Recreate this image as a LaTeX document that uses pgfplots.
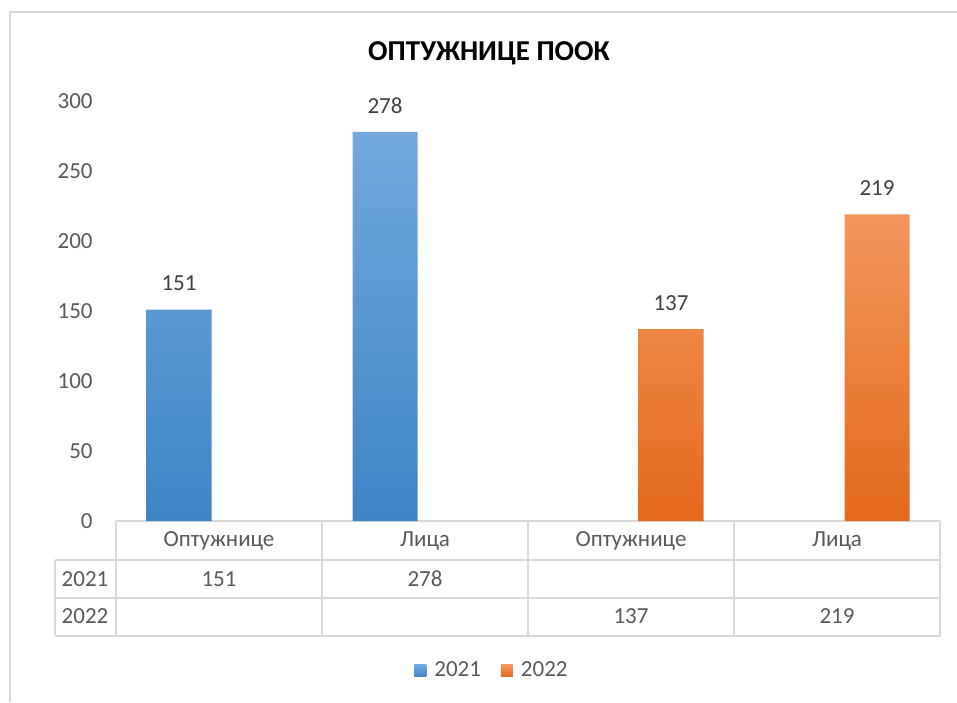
\documentclass[border=0pt]{standalone}
\usepackage{pgfplots}
\pgfplotsset{compat=1.18}
\usepackage{fontspec}
\setmainfont{Carlito}
\definecolor{blueTop}{HTML}{72A8DD}
\definecolor{blueBot}{HTML}{3E85C6}
\definecolor{orTop}{HTML}{F3965C}
\definecolor{orBot}{HTML}{E4691B}
\definecolor{tickc}{HTML}{595959}
\definecolor{labc}{HTML}{404040}
\definecolor{linec}{HTML}{D9D9D9}
\newcommand\bodyfs{\fontsize{11.5}{13.8}\selectfont}
\pgfplotsset{sqlegend/.style={legend image code/.code={\path[##1] (0pt,-3pt) rectangle (6pt,3pt);}}}
\begin{document}
\begin{tikzpicture}
\begin{scope}[x=0.5pt,y=-0.5pt]
\path[use as bounding box] (0,0) rectangle (957,702);
\draw[linec, line width=1pt] (9.5,702) -- (9.5,12) -- (957,12);
\node[anchor=base, font=\fontsize{14.4}{16}\selectfont\bfseries, text=black, inner sep=0pt] at (489,60) {ОПТУЖНИЦЕ ПООК};
% data table
\draw[linec, line width=1pt] (116,521) -- (940,521);
\foreach \yy in {560,598,636} \draw[linec, line width=1pt] (55,\yy) -- (940,\yy);
\draw[linec, line width=1pt] (55,560) -- (55,636);
\foreach \xx in {116,322,528,734,940} \draw[linec, line width=1pt] (\xx,521) -- (\xx,636);
\foreach \xx/\t in {219/Оптужнице,425/Лица,631/Оптужнице,837/Лица}
  \node[anchor=base, text=tickc, font=\bodyfs, inner sep=0pt] at (\xx,546) {\t};
\node[anchor=base, text=tickc, font=\bodyfs, inner sep=0pt] at (85,586.5) {2021};
\node[anchor=base, text=tickc, font=\bodyfs, inner sep=0pt] at (85,623) {2022};
\foreach \xx/\t in {219/151,425/278}
  \node[anchor=base, text=tickc, font=\bodyfs, inner sep=0pt] at (\xx,586.5) {\t};
\foreach \xx/\t in {631/137,837/219}
  \node[anchor=base, text=tickc, font=\bodyfs, inner sep=0pt] at (\xx,623) {\t};
\end{scope}
\begin{axis}[
  at={(58pt,-260.5pt)}, anchor=south west,
  scale only axis, width=412pt, height=210pt,
  xmin=-0.5, xmax=3.5, ymin=0, ymax=300,
  axis lines=left, axis line style={draw=none},
  xtick=\empty, ytick={0,50,...,300},
  major tick length=0pt,
  /pgf/number format/assume math mode=true,
  yticklabel style={font=\bodyfs, text=tickc, anchor=east, inner sep=0pt, xshift=-11.5pt},
  ybar, bar width=32.5pt,
  clip=false,
  nodes near coords,
  nodes near coords style={font=\bodyfs, text=labc, anchor=center, yshift=13pt},
  legend style={at={(0.4575,-0.357)}, anchor=center, draw=none, fill=none,
    legend columns=2, font=\bodyfs, text=tickc,
    /tikz/every odd column/.append style={column sep=2pt},
    /tikz/every even column/.append style={column sep=8pt}},
]
\addplot[sqlegend, draw=none, top color=blueTop, bottom color=blueBot, bar shift=-20pt]
  coordinates {(0,151) (1,278)};
\addplot[sqlegend, draw=none, top color=orTop, bottom color=orBot, bar shift=20pt]
  coordinates {(2,137) (3,219)};
\legend{2021,2022}
\end{axis}
\end{tikzpicture}
\end{document}
